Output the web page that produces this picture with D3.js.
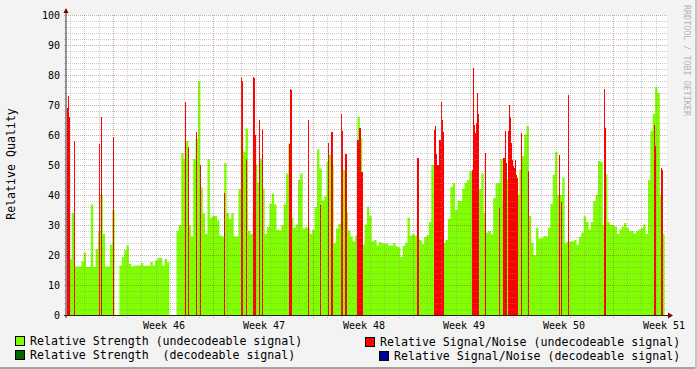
<!DOCTYPE html>
<html>
<head>
<meta charset="utf-8">
<script src="https://cdn.jsdelivr.net/npm/d3@7/dist/d3.min.js"></script>
<style>
  body { margin: 0; background: #f3f3f3; }
  svg { display: block; font-family: "DejaVu Sans Mono", monospace; }
</style>
</head>
<body>
<svg id="chart" width="697" height="369"></svg>
<script>
// relative strength, undecodeable signal: one value every 4 hours, null = no data
const stepHours = 4;
const strength = [
  18, 18.5, 34, 16.2, 16.2, 16.2, 17.8, 20.8, 16, 16,
  36.8, 16, 22, 28, 40, 27, 16.2, 16.2, 23.4, 35,
  null, null, 16.5, 19.3, 21.7, 23.2, 17, 16.2, 16.5, 16.5,
  16.5, 17.3, 16.4, 16.4, 16.4, 17.7, 16.5, 18.2, 19, 19,
  16.4, 18.7, 17.7, null, null, null, 28, 30, 54, 52,
  58, 30, 26.2, 52, 58.7, 78, 42.5, 33.8, 27, 52,
  32.4, 33, 33, 31.5, 26.5, 26.2, 50.7, 34, 32, 34,
  26.2, 26.2, 42, 58.9, 54.4, 62.2, 28, 27, 34, 50.2,
  44.1, 52.2, 42.1, 27, 29.3, 37.1, 40.5, 36.8, 28.4, 28.2,
  29.9, 36.8, 47.2, 57.2, 32.4, 29, 30.2, 45, 47.2, 28.8,
  29.3, 28.8, 27, 28.4, 36, 55.2, 48.8, 38.2, 39.6, 51.1,
  53.3, 49.9, 24, 28.8, 30.4, 40.2, 48.3, 34.3, 28.2, 26.2,
  24.5, 26.5, 66.1, 58.9, 23.4, 30.2, 36.2, 33, 24.6, 25,
  23.2, 24.3, 24, 23.8, 23.8, 23.2, 23.2, 24, 22.9, 22.6,
  19.3, 23, 24, 32.4, 26.5, 26.9, 26.5, 26, 25, 23.7,
  26, 26.5, 31, 50, 49.9, 50, 50, 33.8, 24, 25,
  32, 42.7, 44, 35, 38.2, 38, 42, 44, 45, 48,
  48, 48.8, 47, 42, 47.2, 34, 27.5, 28, 26.9, 39,
  43.8, 44, 52, 37, 45, 45, 45, 45, 40.1, 40.1,
  48.5, 53, 60.2, 63, 33, 24, 20, 29, 25.5, 25.6,
  26.3, 26.2, 29, 37, 46.8, 54.3, 40, 40, 45.7, 24,
  24.5, 24.5, 24.5, 25, 23.4, 26, 27.5, 32.9, 31, 28.5,
  31, 38, 40, 51.3, 51, 30, 47, 31, 30, 30,
  29.5, 27, 28.5, 29.5, 30.7, 29, 28, 28, 27.2, 28,
  28.5, 29, 30.2, 27, 45, 61.3, 67, 76, 74, 40,
  27, null
];

// relative signal/noise, undecodeable signal: [hour, value], one rrd step each
const pixHours = 1.68;
const snr = [
  [0, 69], [1.68, 73], [3.36, 66], [11.76, 58], [53.76, 57], [57.12, 66],
  [77.28, 59.4], [198.24, 71], [203.28, 56], [216.72, 61], [223.44, 50],
  [263.76, 40.7], [292.32, 79.5], [294, 78], [300.72, 52], [312.48, 79.2],
  [314.16, 79], [315.84, 60], [322.56, 65], [327.6, 62], [372.96, 57],
  [374.64, 75.3], [376.32, 75], [404.88, 65], [425.04, 36.6], [438.48, 57.2],
  [443.52, 61], [445.2, 61], [460.32, 66.9], [462, 61.3], [467.04, 53.8],
  [468.72, 53.8], [487.2, 58.5], [488.88, 58.5], [490.56, 62.5], [492.24, 62.5],
  [493.92, 47.7], [495.6, 47.7], [588, 52.2], [589.68, 52.2],
  [616.56, 61.6], [618.24, 63.1], [619.92, 53.8], [621.6, 50], [623.28, 50],
  [624.96, 58.3], [626.64, 58.3], [628.32, 71], [630, 65], [631.68, 61],
  [680.4, 48.2], [682.08, 82.2], [683.76, 63.2], [685.44, 60.8], [687.12, 64.1],
  [688.8, 74.1], [690.48, 66.9], [702.24, 54.1], [725.76, 35.7],
  [732.48, 52.2], [734.16, 52.2], [735.84, 61.3], [737.52, 50.7],
  [740.88, 61.3], [742.56, 69.9], [744.24, 66], [745.92, 57.4], [747.6, 51.8],
  [749.28, 49.6], [750.96, 49], [752.64, 51.6], [754.32, 46.8], [756, 45.7],
  [762.72, 60.8], [774.48, 48], [826.56, 53.5], [829.92, 37.8], [841.68, 73.2],
  [902.16, 75.3], [903.84, 62.2], [985.68, 63.2], [987.36, 56.3],
  [997.44, 49], [999.12, 48.3]
];

// decodeable signal series (nothing recorded in this period)
const decodeStrength = [];
const decodeSnr = [];

const totalHours = 1008;
const firstMidnight = 5;
const weekLabels = ["Week 46", "Week 47", "Week 48", "Week 49", "Week 50", "Week 51"];
const yMajor = d3.range(10, 101, 10);
const yMinor = d3.range(2, 100, 2).filter(v => v % 10 !== 0);

const legend = [
  { label: "Relative Strength (undecodeable signal)", color: "#80ff00", x: 15, y: 336, tx: 30 },
  { label: "Relative Signal/Noise (undecodeable signal)", color: "#ff0000", x: 365, y: 337, tx: 380 },
  { label: "Relative Strength  (decodeable signal)", color: "#006600", x: 15, y: 350, tx: 30 },
  { label: "Relative Signal/Noise (decodeable signal)", color: "#000099", x: 379, y: 351, tx: 394 }
];

const svg = d3.select("#chart");
const x = d3.scaleLinear().domain([0, totalHours]).range([67, 667]);
const y = d3.scaleLinear().domain([0, 100]).range([315, 15]);

// frame
svg.append("rect").attr("width", 697).attr("height", 369).attr("fill", "#f3f3f3");
svg.append("rect").attr("x", 0).attr("y", 367).attr("width", 697).attr("height", 2).attr("fill", "#a4a4a4");
svg.append("rect").attr("x", 695).attr("y", 0).attr("width", 2).attr("height", 369).attr("fill", "#c4c4c4");
svg.append("rect").attr("x", 67).attr("y", 15).attr("width", 600).attr("height", 300).attr("fill", "#fff");

// strength area, drawn as steps
const stepPts = strength.flatMap((v, i) => [
  { t: i * stepHours, v }, { t: (i + 1) * stepHours, v }
]);
const area = d3.area()
  .defined(d => d.v != null)
  .x(d => x(Math.min(d.t, totalHours)))
  .y0(y(0))
  .y1(d => y(d.v));
svg.append("path").datum(stepPts).attr("d", area).attr("fill", "#80ff00");

svg.append("g").selectAll("rect")
  .data(decodeStrength)
  .join("rect")
  .attr("x", d => x(d[0])).attr("width", d => x(d[0] + pixHours) - x(d[0]))
  .attr("y", d => y(d[1])).attr("height", d => y(0) - y(d[1]))
  .attr("fill", "#006600");

svg.append("g").attr("shape-rendering", "crispEdges").selectAll("rect")
  .data(snr)
  .join("rect")
  .attr("x", d => x(d[0])).attr("width", d => x(d[0] + pixHours) - x(d[0]))
  .attr("y", d => y(d[1])).attr("height", d => y(0) - y(d[1]))
  .attr("fill", "#ff0000");

svg.append("g").selectAll("rect")
  .data(decodeSnr)
  .join("rect")
  .attr("x", d => x(d[0])).attr("width", d => x(d[0] + pixHours) - x(d[0]))
  .attr("y", d => y(d[1])).attr("height", d => y(0) - y(d[1]))
  .attr("fill", "#000099");

// grid on top
const days = d3.range(firstMidnight, totalHours, 24);
const weeks = days.filter((d, i) => i % 7 === 3);
const minorCol = "rgba(140,140,140,0.45)";
const majorCol = "rgba(150,40,40,0.4)";
const grid = svg.append("g").attr("shape-rendering", "crispEdges");

grid.selectAll(".hmin").data(yMinor).join("line")
  .attr("x1", 64).attr("x2", 667)
  .attr("y1", d => Math.round(y(d)) + 0.5).attr("y2", d => Math.round(y(d)) + 0.5)
  .attr("stroke", minorCol).attr("stroke-dasharray", "1,1");
grid.selectAll(".vmin").data(days.filter(d => !weeks.includes(d))).join("line")
  .attr("x1", d => Math.round(x(d)) + 0.5).attr("x2", d => Math.round(x(d)) + 0.5)
  .attr("y1", 15).attr("y2", 318)
  .attr("stroke", minorCol).attr("stroke-dasharray", "1,1");
grid.selectAll(".hmaj").data(yMajor).join("line")
  .attr("x1", 64).attr("x2", 667)
  .attr("y1", d => Math.round(y(d)) + 0.5).attr("y2", d => Math.round(y(d)) + 0.5)
  .attr("stroke", majorCol).attr("stroke-dasharray", "1,1");
grid.selectAll(".vmaj").data(weeks).join("line")
  .attr("x1", d => Math.round(x(d)) + 0.5).attr("x2", d => Math.round(x(d)) + 0.5)
  .attr("y1", 15).attr("y2", 319)
  .attr("stroke", majorCol).attr("stroke-dasharray", "1,1");

// axes
svg.append("line").attr("x1", 66).attr("x2", 66).attr("y1", 318).attr("y2", 12)
  .attr("stroke", "#333").attr("stroke-width", 1);
svg.append("line").attr("x1", 64).attr("x2", 669).attr("y1", 315.5).attr("y2", 315.5)
  .attr("stroke", "#222").attr("stroke-width", 1);
svg.append("path").attr("d", "M63.5,13L68.5,13L66,8Z").attr("fill", "#7a0000");
svg.append("path").attr("d", "M668,312.5L668,318.5L673,315.5Z").attr("fill", "#7a0000");

// labels
svg.append("g").selectAll("text").data([0, ...yMajor]).join("text")
  .attr("x", 60).attr("y", d => y(d)).attr("dy", "0.36em")
  .attr("text-anchor", "end").attr("font-size", 10).attr("fill", "#000")
  .text(d => d);

svg.append("g").selectAll("text").data(weekLabels).join("text")
  .attr("x", (d, i) => x(weeks[i] + 86)).attr("y", 329)
  .attr("text-anchor", "middle").attr("font-size", 10).attr("fill", "#000")
  .text(d => d);

svg.append("text")
  .attr("transform", "translate(15,164) rotate(-90)")
  .attr("text-anchor", "middle").attr("font-size", 11.6).attr("fill", "#000")
  .text("Relative Quality");

svg.append("text")
  .attr("transform", "translate(684,5) rotate(90)")
  .attr("font-size", 8.4).attr("fill", "#b4b4b4")
  .text("RRDTOOL / TOBI OETIKER");

// legend
const lg = svg.append("g").selectAll("g").data(legend).join("g");
lg.append("rect")
  .attr("x", d => d.x + 0.5).attr("y", d => d.y + 0.5)
  .attr("width", 9).attr("height", 9)
  .attr("fill", d => d.color).attr("stroke", "#000");
lg.append("text")
  .attr("x", d => d.tx).attr("y", d => d.y + 9)
  .attr("font-size", 11.6).attr("fill", "#000")
  .attr("xml:space", "preserve").style("white-space", "pre")
  .text(d => d.label);
</script>
</body>
</html>
